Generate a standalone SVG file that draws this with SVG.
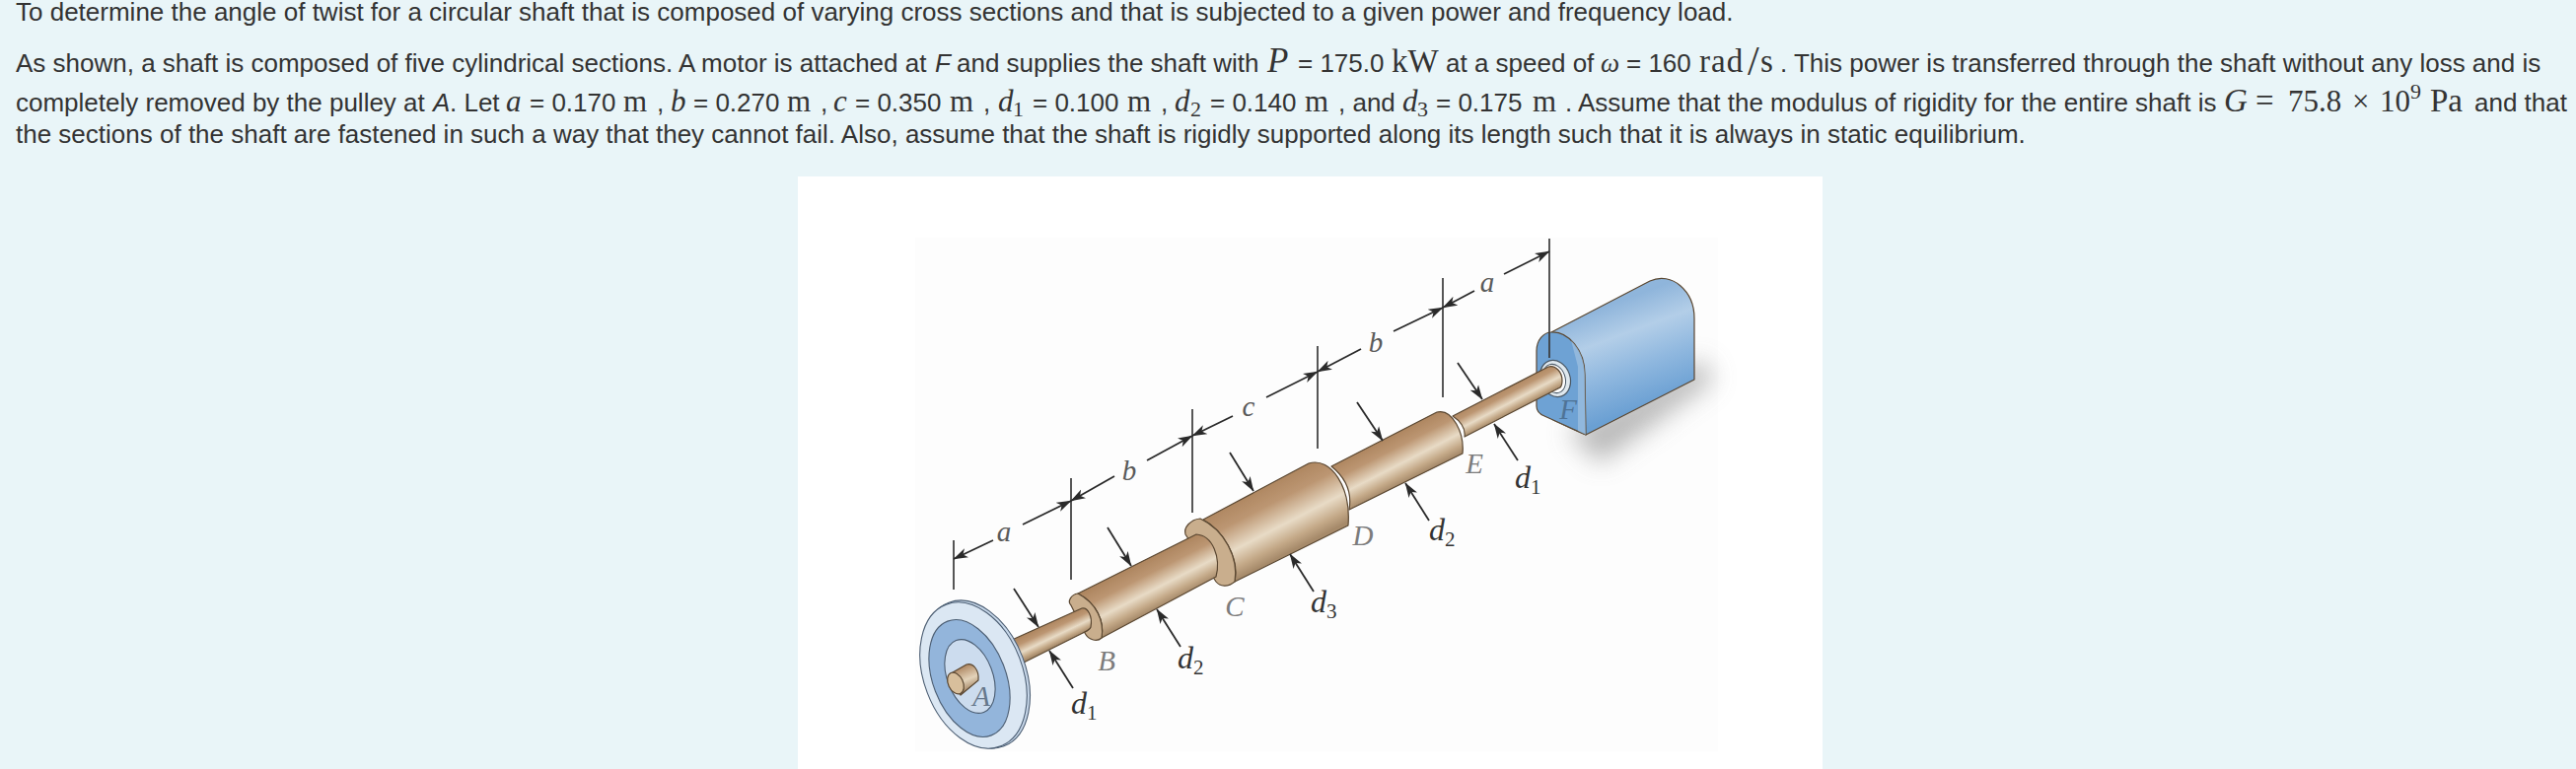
<svg xmlns="http://www.w3.org/2000/svg" width="2612" height="780" viewBox="0 0 2612 780">
<style>
.t{font-family:"Liberation Sans",Arial,sans-serif;font-size:26px;fill:#333}
.i{font-style:italic}
.m{font-family:"Liberation Serif","Times New Roman",serif;font-size:31px;fill:#333}
.mi{font-family:"Liberation Serif","Times New Roman",serif;font-size:31px;font-style:italic;fill:#333}
.mb{font-size:33px}
.mp{font-size:35px}
.sub{font-family:"Liberation Serif","Times New Roman",serif;font-size:22px;fill:#333}
.edge{stroke:#5a4731;stroke-width:1.2;stroke-linejoin:round}
.face{fill:#c9ae8d}
.ext{stroke:#3a3a3a;stroke-width:1.7;fill:none}
.tip{stroke:#2a2a2a;stroke-width:1.8;fill:none;marker-end:url(#arrow)}
.lab{font-family:"Liberation Serif","Times New Roman",serif;font-style:italic;font-size:29px;fill:#7c7c7c;text-anchor:middle}
.dim{font-family:"Liberation Serif","Times New Roman",serif;font-style:italic;font-size:29px;fill:#5a5a5a;text-anchor:middle}
.dia{font-family:"Liberation Serif","Times New Roman",serif;font-style:italic;font-size:32px;fill:#333}
.dia tspan{font-style:normal;font-size:21px}
.ring{stroke:#4c5e73;stroke-width:1.1}
</style>
<defs>
<marker id="arrow" viewBox="0 0 15 11" refX="14.500" refY="5.500" markerWidth="15" markerHeight="11" markerUnits="userSpaceOnUse" orient="auto"><path d="M0,0.500L15,5.500L0,10.500L4,5.500Z" fill="#2a2a2a"/></marker>
<linearGradient id="brass"><stop offset="0" stop-color="#ae8660"/><stop offset=".28" stop-color="#bc9672"/><stop offset=".62" stop-color="#e8dbc6"/><stop offset=".85" stop-color="#c4a988"/><stop offset="1" stop-color="#a68a6a"/></linearGradient>
<linearGradient id="gAB" href="#brass" gradientUnits="userSpaceOnUse" x1="1060" y1="634" x2="1070" y2="655"/>
<linearGradient id="gBC" href="#brass" gradientUnits="userSpaceOnUse" x1="1155" y1="572" x2="1177" y2="615"/>
<linearGradient id="gCD" href="#brass" gradientUnits="userSpaceOnUse" x1="1270" y1="498" x2="1303" y2="562"/>
<linearGradient id="gDE" href="#brass" gradientUnits="userSpaceOnUse" x1="1400" y1="447" x2="1422" y2="490"/>
<linearGradient id="gEF" href="#brass" gradientUnits="userSpaceOnUse" x1="1520" y1="396" x2="1532" y2="419"/>
<linearGradient id="gHub" gradientUnits="userSpaceOnUse" x1="975" y1="676" x2="984" y2="698"><stop offset="0" stop-color="#ae8660"/><stop offset=".6" stop-color="#e3d3ba"/><stop offset="1" stop-color="#ad9070"/></linearGradient>
<linearGradient id="gMotor" gradientUnits="userSpaceOnUse" x1="1630" y1="310" x2="1668" y2="412"><stop offset="0" stop-color="#8fb5db"/><stop offset=".3" stop-color="#b3cee8"/><stop offset=".62" stop-color="#90b8df"/><stop offset="1" stop-color="#6ba0d3"/></linearGradient>
<filter id="soft" x="-5%" y="-5%" width="110%" height="110%"><feGaussianBlur stdDeviation=".6"/></filter>
<filter id="shadow" x="-40%" y="-80%" width="180%" height="260%"><feGaussianBlur stdDeviation="13"/></filter>
</defs>
<rect id="background" width="2612" height="780" fill="#e9f5f8"/>
<g id="figure-panel">
<rect x="809" y="179" width="1039" height="601" fill="#fff"/>
<rect x="928" y="241" width="814" height="521" fill="#fdfdfd"/>
</g>
<path id="motor-shadow" d="M1590,438L1725,365L1738,385L1622,470Z" fill="#a8a8a8" opacity=".8" filter="url(#shadow)"/>
<g id="motor" filter="url(#soft)">
<path class="edge" d="M1573,337L1673,285C1695,275 1718,295 1718,323L1718,385L1608,441C1600,438 1590,433 1575,426Z" fill="url(#gMotor)"/>
<path class="edge" d="M1558,356C1558,345 1565,337 1573,337C1590,336 1607,355 1607,380L1608,441L1566,422C1561,420 1558,417 1558,412Z" fill="#6ea2d4"/>
<path d="M1593,345C1603,355 1607,368 1607,380L1608,441L1600,437L1600,372Z" fill="#a9c6e2" opacity=".6"/>
<ellipse cx="1577" cy="384" rx="15" ry="19" transform="rotate(-20 1577 384)" fill="#dfe8ee" stroke="#4a5866" stroke-width="1.2"/>
<ellipse cx="1576" cy="384" rx="11" ry="15" transform="rotate(-20 1576 384)" fill="#fff" stroke="#4a5866" stroke-width="1"/>
</g>
<g id="shaft" filter="url(#soft)">
<path id="section-ef" class="edge" d="M1473,422L1570,372C1578,370 1584,378 1584,386C1584,390 1583,392 1582,393L1485,443C1486,436 1482,428 1473,422Z" fill="url(#gEF)"/>
<path id="section-de" class="edge" d="M1350,473L1457,418C1473,414 1485,440 1483,460L1368,517C1371,500 1365,485 1350,473Z" fill="url(#gDE)"/>
<path id="section-cd" class="edge" d="M1220,527L1327,470C1350,463 1370,495 1367,533L1252,590C1257,565 1240,538 1220,527Z" fill="url(#gCD)"/>
<path id="collar-c" class="edge face" d="M1217,526C1207,527 1200,535 1202,542L1233,590C1237,595 1245,596 1252,590C1256,566 1242,538 1217,526Z"/>
<path id="section-bc" class="edge" d="M1093,602L1213,542C1230,543 1238,566 1233,585L1117,647C1120,630 1112,612 1093,602Z" fill="url(#gBC)"/>
<path id="collar-b" class="edge face" d="M1093,602C1086,603 1082,610 1086,614L1100,642C1104,650 1113,651 1117,647C1120,630 1112,612 1093,602Z"/>
<path id="section-ab" class="edge" d="M1015,654L1097,617C1103,616 1108,625 1106,636C1105,639 1102,640 1098,642L1030,676Z" fill="url(#gAB)"/>
</g>
<g id="pulley" filter="url(#soft)">
<ellipse class="ring" cx="990" cy="684" rx="50" ry="78" transform="rotate(-21 990 684)" fill="#c8d8ea"/>
<ellipse class="ring" cx="987" cy="685" rx="50" ry="77" transform="rotate(-21 987 685)" fill="#dbe7f3"/>
<ellipse class="ring" cx="983" cy="688" rx="37" ry="62" transform="rotate(-21 983 688)" fill="#93b5db"/>
<ellipse class="ring" cx="983.500" cy="686" rx="23" ry="39" transform="rotate(-21 983.500 686)" fill="#ccdcee"/>
<path class="edge" d="M966,682L980,674C987,672 993,680 992,690L974,705Z" fill="url(#gHub)"/>
<ellipse class="edge" cx="969" cy="693" rx="7.500" ry="11.500" transform="rotate(-25 969 693)" fill="#d8bf9c"/>
</g>
<g id="connectors">
<path class="ext" d="M967,548V598M1086,485V588M1209,415V520M1336,351V455M1463,282V403M1571,242V363"/>
<path class="tip" d="M1007,548L967,567"/>
<path class="tip" d="M1037,532L1086,508"/>
<path class="tip" d="M1130,483L1086,508"/>
<path class="tip" d="M1163,467L1209,442"/>
<path class="tip" d="M1250,422L1209,442"/>
<path class="tip" d="M1284,403L1336,377"/>
<path class="tip" d="M1380,354L1336,377"/>
<path class="tip" d="M1413,336L1463,312"/>
<path class="tip" d="M1495,295L1463,312"/>
<path class="tip" d="M1525,278L1571,255"/>
<path class="tip" d="M1028,597L1053,636"/>
<path class="tip" d="M1088,698L1064,660"/>
<path class="tip" d="M1123,535L1147,574"/>
<path class="tip" d="M1197,656L1173,618"/>
<path class="tip" d="M1247,459L1271,498"/>
<path class="tip" d="M1332,600L1308,562"/>
<path class="tip" d="M1376,408L1402,447"/>
<path class="tip" d="M1449,528L1425,490"/>
<path class="tip" d="M1478,368L1503,405"/>
<path class="tip" d="M1539,467L1515,430"/>
</g>
<g id="labels">
<text class="lab" x="995" y="716" style="fill:#66788c">A</text>
<text class="lab" x="1122" y="680">B</text>
<text class="lab" x="1252" y="625">C</text>
<text class="lab" x="1382" y="553">D</text>
<text class="lab" x="1495" y="480">E</text>
<text class="lab" x="1590" y="425" style="fill:#4f7396">F</text>
<text class="dim" x="1018" y="549">a</text>
<text class="dim" x="1145" y="487">b</text>
<text class="dim" x="1266" y="422">c</text>
<text class="dim" x="1395" y="357">b</text>
<text class="dim" x="1508" y="296">a</text>
<text class="dia" x="1086" y="724">d<tspan dy="6">1</tspan></text>
<text class="dia" x="1194" y="678">d<tspan dy="6">2</tspan></text>
<text class="dia" x="1329" y="621">d<tspan dy="6">3</tspan></text>
<text class="dia" x="1449" y="548">d<tspan dy="6">2</tspan></text>
<text class="dia" x="1536" y="495">d<tspan dy="6">1</tspan></text>
</g>
<g id="problem-text">
<text class="t" x="16" y="21">To determine the angle of twist for a circular shaft that is composed of varying cross sections and that is subjected to a given power and frequency load.</text>
<text class="t" x="16" y="73">As shown, a shaft is composed of five cylindrical sections. A motor is attached at </text>
<text class="t i" x="948" y="73">F</text>
<text class="t" x="970" y="73">and supplies the shaft with</text>
<text class="mi mp" x="1285" y="73">P</text>
<text class="t" x="1316" y="73">= 175.0</text>
<text class="m mb" x="1411" y="73">kW</text>
<text class="t" x="1466" y="73">at a speed of</text>
<text class="mi" x="1623" y="73" style="font-size:27px">ω</text>
<text class="t" x="1649" y="73">= 160</text>
<text class="m mb" x="1723" y="73" letter-spacing="1">rad</text>
<text class="m" x="1772" y="76" style="font-size:42px">/</text>
<text class="m mb" x="1785" y="73">s</text>
<text class="t" x="1805" y="73">. This power is transferred through the shaft without any loss and is</text>
<text class="t" x="16" y="113">completely removed by the pulley at </text>
<text class="t i" x="439" y="113">A</text>
<text class="t" x="456" y="113">. Let</text>
<text class="mi" x="513" y="113">a</text>
<text class="t" x="537" y="113">= 0.170</text>
<text class="m" x="632" y="113">m</text>
<text class="t" x="666" y="113">,</text>
<text class="mi" x="680" y="113">b</text>
<text class="t" x="703" y="113">= 0.270</text>
<text class="m" x="798" y="113">m</text>
<text class="t" x="832" y="113">,</text>
<text class="mi" x="845" y="113">c</text>
<text class="t" x="867" y="113">= 0.350</text>
<text class="m" x="963" y="113">m</text>
<text class="t" x="997" y="113">,</text>
<text class="mi" x="1012" y="113">d</text><text class="sub" x="1027" y="118">1</text>
<text class="t" x="1047" y="113">= 0.100</text>
<text class="m" x="1143" y="113">m</text>
<text class="t" x="1177" y="113">,</text>
<text class="mi" x="1191" y="113">d</text><text class="sub" x="1207" y="118">2</text>
<text class="t" x="1227" y="113">= 0.140</text>
<text class="m" x="1323" y="113">m</text>
<text class="t" x="1357" y="113">, and</text>
<text class="mi" x="1422" y="113">d</text><text class="sub" x="1437" y="118">3</text>
<text class="t" x="1456" y="113">= 0.175</text>
<text class="m" x="1554" y="113">m</text>
<text class="t" x="1587" y="113">. Assume that the modulus of rigidity for the entire shaft is</text>
<text class="mi mb" x="2255" y="113">G</text>
<text class="m mb" x="2287" y="113">=</text>
<text class="m" x="2320" y="113">75.8</text>
<text class="m" x="2385" y="113">×</text>
<text class="m" x="2413" y="113">10</text>
<text class="sub" x="2444" y="100">9</text>
<text class="m mb" x="2464" y="113">Pa</text>
<text class="t" x="2509" y="113">and that</text>
<text class="t" x="16" y="145">the sections of the shaft are fastened in such a way that they cannot fail. Also, assume that the shaft is rigidly supported along its length such that it is always in static equilibrium.</text>
</g>
</svg>
